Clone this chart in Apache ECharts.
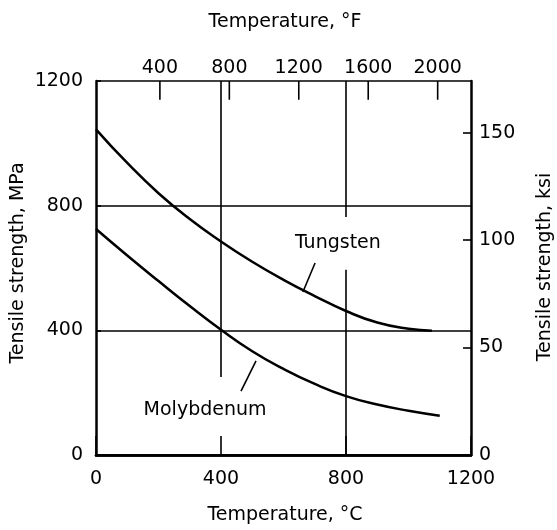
<!DOCTYPE html>
<html>
<head>
<meta charset="utf-8">
<script src="https://cdn.jsdelivr.net/npm/echarts@6/dist/echarts.min.js"></script>
<style>
html,body{margin:0;padding:0;background:#fff;}
#c{width:557px;height:530px;}
</style>
</head>
<body>
<div id="c"></div>
<script>
// Data (°C, MPa)
var tungstenT   = [0, 100, 200, 300, 400, 500, 600, 700, 800, 900, 1000, 1075];
var tungstenMPa = [1045, 937, 840, 757, 685, 620, 562, 510, 462, 425, 405, 399];
var molyT       = [0, 100, 200, 300, 400, 500, 600, 700, 800, 900, 1000, 1100];
var molyMPa     = [725, 640, 558, 478, 402, 333, 276, 228, 189, 162, 142, 126];

// Axis ticks
var celsiusTicks = [0, 400, 800, 1200];
var mpaTicks = [0, 400, 800, 1200];
var fahrenheitTicks = [400, 800, 1200, 1600, 2000];
var ksiTicks = [0, 50, 100, 150];

// Partial vertical rules (°C, MPa from, MPa to)
var ruleSegments = [
  [400, 1200, 250],
  [800, 1200, 764],
  [800, 594, 0]
];
// Leader lines [[°C, MPa],[°C, MPa]]
var tungstenLeader = [[701, 616], [662, 523]];
var molyLeader = [[512, 302], [464, 205]];
// Curve labels
var curveLabels = [
  {name: 'Tungsten', at: [774, 680]},
  {name: 'Molybdenum', at: [349, 144]}
];

var MPA_PER_KSI = 6.894757;
var TOP_TICK_MPA = 60;   // inward length of the top (°F) ticks, in MPa units
var FONT = 'DejaVu Sans';
var FS = 19;
var INK = '#000';

function zip(a, b) { return a.map(function (v, i) { return [v, b[i]]; }); }
function plain(v) { return String(v); }

var series = [];
series.push({
  type: 'line', name: 'Tungsten', data: zip(tungstenT, tungstenMPa), smooth: 0.5,
  showSymbol: false, lineStyle: {color: INK, width: 2.5}, xAxisIndex: 0, yAxisIndex: 0, silent: true, z: 5
});
series.push({
  type: 'line', name: 'Molybdenum', data: zip(molyT, molyMPa), smooth: 0.5,
  showSymbol: false, lineStyle: {color: INK, width: 2.5}, xAxisIndex: 0, yAxisIndex: 0, silent: true, z: 5
});
ruleSegments.forEach(function (s) {
  series.push({
    type: 'line', data: [[s[0], s[1]], [s[0], s[2]]], showSymbol: false,
    lineStyle: {color: INK, width: 1.6}, xAxisIndex: 0, yAxisIndex: 0, silent: true, z: 3
  });
});
fahrenheitTicks.forEach(function (f) {
  series.push({
    type: 'line', data: [[f, 1200], [f, 1200 - TOP_TICK_MPA]], showSymbol: false,
    lineStyle: {color: INK, width: 1.6}, xAxisIndex: 1, yAxisIndex: 0, silent: true, z: 3
  });
});
[tungstenLeader, molyLeader].forEach(function (l) {
  series.push({
    type: 'line', data: l, showSymbol: false,
    lineStyle: {color: INK, width: 1.6}, xAxisIndex: 0, yAxisIndex: 0, silent: true, z: 4
  });
});
series.push({
  type: 'scatter', symbolSize: 0, xAxisIndex: 0, yAxisIndex: 0, silent: true,
  itemStyle: {opacity: 1},
  data: curveLabels.map(function (c) { return {value: c.at, name: c.name}; }),
  label: {show: true, position: 'inside', formatter: '{b}', color: INK, opacity: 1, textBorderWidth: 0, fontFamily: FONT, fontSize: FS}
});

var axisLine = {show: true, lineStyle: {color: INK, width: 2.5}};
var labelBase = {color: INK, fontFamily: FONT, fontSize: FS, formatter: plain};

var option = {
  animation: false,
  backgroundColor: '#fff',
  grid: {left: 96, right: 86, top: 81, bottom: 75, containLabel: false},
  xAxis: [
    {
      type: 'value', position: 'bottom', min: 0, max: 1200, interval: 400,
      axisLine: axisLine,
      axisTick: {show: true, inside: true, length: 19, lineStyle: {color: INK, width: 1.6}},
      axisLabel: Object.assign({margin: 15, customValues: celsiusTicks}, labelBase),
      splitLine: {show: false}
    },
    {
      type: 'value', position: 'top', min: 32, max: 2192,
      axisLine: axisLine,
      axisTick: {show: false},
      axisLabel: Object.assign({margin: 3, customValues: fahrenheitTicks}, labelBase),
      splitLine: {show: false}
    }
  ],
  yAxis: [
    {
      type: 'value', position: 'left', min: 0, max: 1200, interval: 400,
      axisLine: axisLine,
      axisTick: {show: true, inside: true, length: 5, lineStyle: {color: INK, width: 1.6}},
      axisLabel: Object.assign({margin: 13, customValues: mpaTicks}, labelBase),
      splitLine: {show: true, lineStyle: {color: INK, width: 1.6}}
    },
    {
      type: 'value', position: 'right', min: 0, max: 1200 / MPA_PER_KSI,
      axisLine: axisLine,
      axisTick: {show: true, inside: true, length: 8, customValues: ksiTicks, lineStyle: {color: INK, width: 1.6}},
      axisLabel: Object.assign({margin: 8, customValues: ksiTicks}, labelBase),
      splitLine: {show: false}
    }
  ],
  graphic: [
    {type: 'text', x: 285, y: 22, style: {text: 'Temperature, °F', fill: INK, font: FS + 'px "' + FONT + '"', align: 'center', verticalAlign: 'middle'}},
    {type: 'text', x: 285, y: 515, style: {text: 'Temperature, °C', fill: INK, font: FS + 'px "' + FONT + '"', align: 'center', verticalAlign: 'middle'}},
    {type: 'text', x: 18, y: 263, rotation: Math.PI / 2, style: {text: 'Tensile strength, MPa', fill: INK, font: FS + 'px "' + FONT + '"', align: 'center', verticalAlign: 'middle'}},
    {type: 'text', x: 545, y: 267, rotation: Math.PI / 2, style: {text: 'Tensile strength, ksi', fill: INK, font: FS + 'px "' + FONT + '"', align: 'center', verticalAlign: 'middle'}}
  ],
  series: series
};

var chart = echarts.init(document.getElementById('c'), null, {renderer: 'canvas'});
chart.setOption(option);
</script>
</body>
</html>
